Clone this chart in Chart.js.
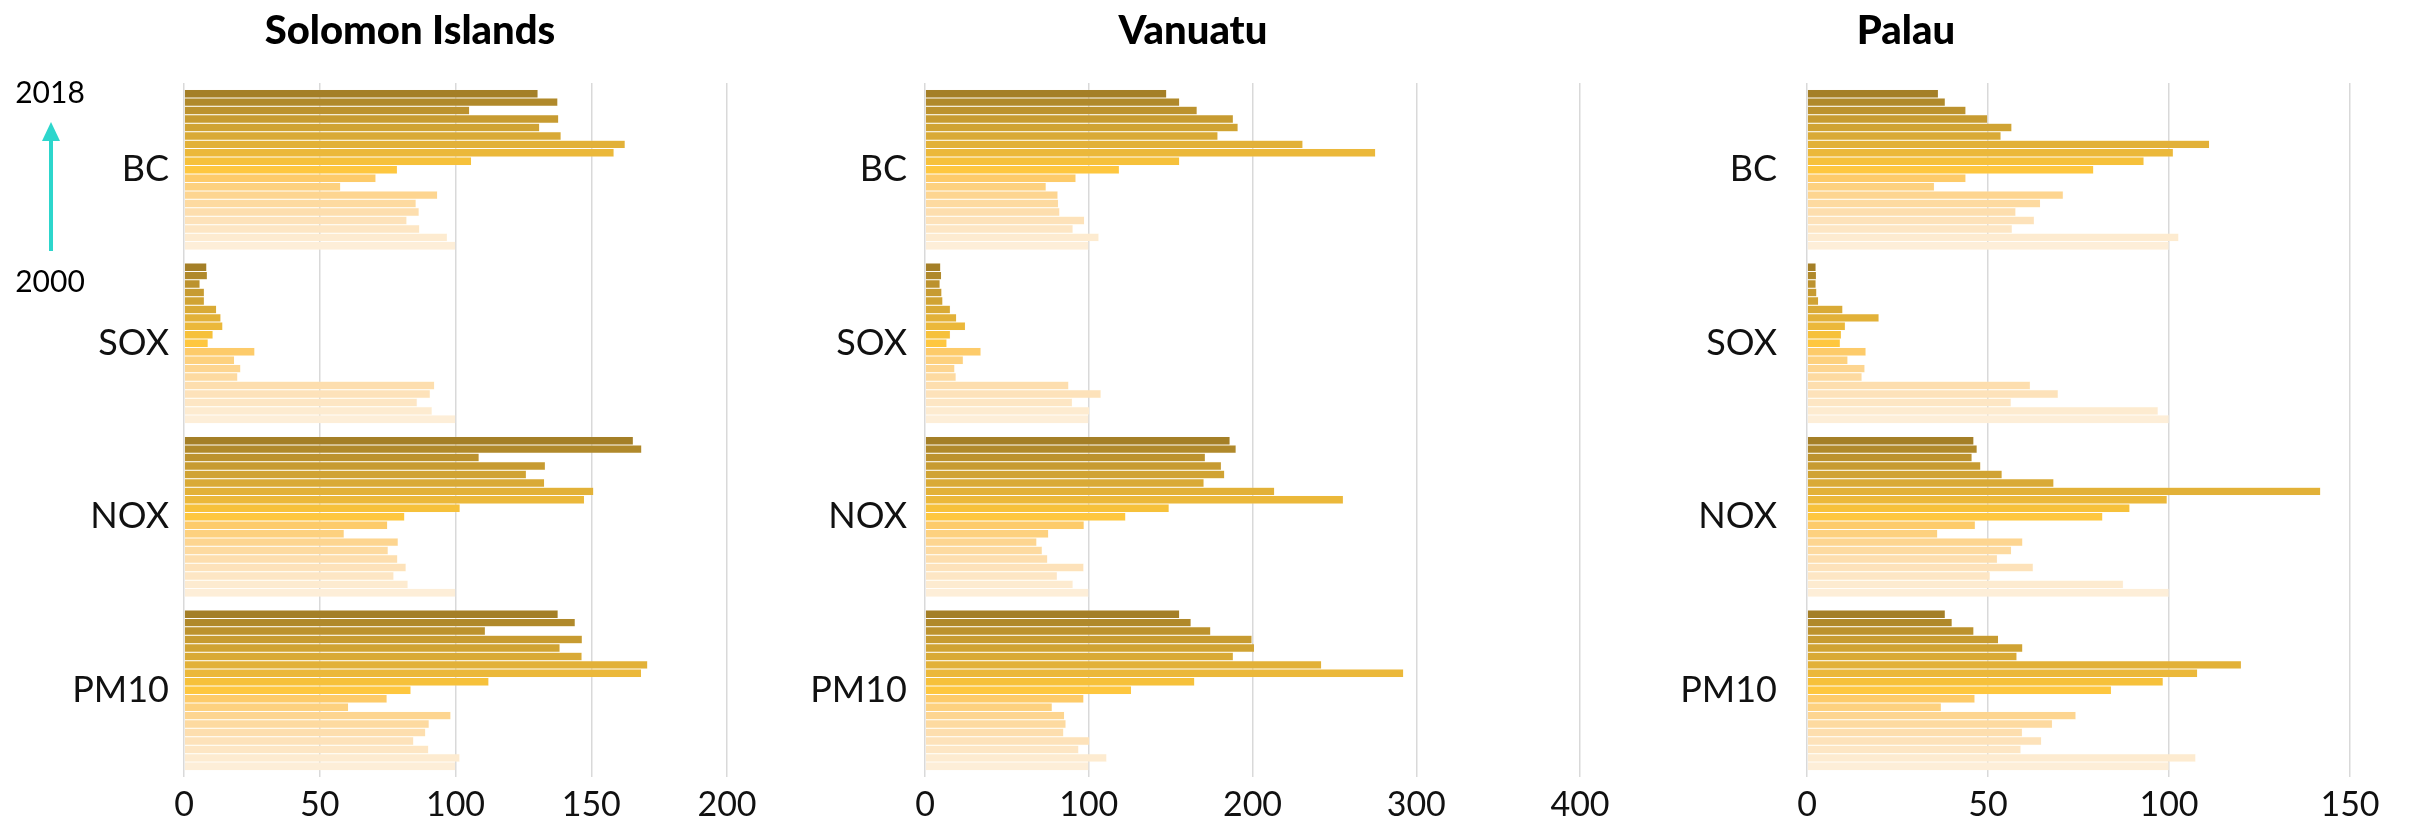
<!DOCTYPE html>
<html>
<head>
<meta charset="utf-8">
<script src="https://cdn.jsdelivr.net/npm/chart.js@4.4.0/dist/chart.umd.min.js"></script>
<style>
  html, body { margin: 0; padding: 0; background: #fff; }
  #wrap { position: relative; width: 2410px; height: 836px; overflow: hidden; }
  canvas { position: absolute; top: 0; }
</style>
</head>
<body>
<div id="wrap">
  <canvas id="c1"></canvas>
  <canvas id="c2"></canvas>
  <canvas id="c3"></canvas>
</div>
<script>
// categories and years (values are an index, 2000 = 100)
var pollutants = ['BC', 'SOX', 'NOX', 'PM10'];
var years = [2000, 2001, 2002, 2003, 2004, 2005, 2006, 2007, 2008, 2009,
             2010, 2011, 2012, 2013, 2014, 2015, 2016, 2017, 2018];

// Solomon Islands
var solomonBC   = [100, 97, 86.8, 82.1, 86.6, 85.5, 93.4, 57.7, 70.7, 78.6, 105.9, 158.4, 162.5, 138.9, 131, 138, 105.2, 137.7, 130.4];
var solomonSOX  = [100, 91.4, 85.9, 90.7, 92.3, 19.8, 20.9, 18.6, 26.1, 8.9, 10.7, 14.3, 13.6, 12, 7.5, 7.5, 5.9, 8.6, 8.4];
var solomonNOX  = [100, 82.5, 77.3, 81.8, 78.7, 75.2, 78.9, 59, 75, 81.3, 101.7, 147.5, 150.9, 132.8, 126.1, 133.1, 108.7, 168.6, 165.5];
var solomonPM10 = [100, 101.6, 90.1, 84.6, 89, 90.3, 98.3, 60.6, 74.8, 83.6, 112.3, 168.5, 170.8, 146.6, 138.5, 146.7, 111, 144.1, 137.8];

// Vanuatu
var vanuatuBC   = [100, 106.2, 90.4, 97.4, 82.3, 81.5, 81.2, 74, 92.2, 118.7, 155.5, 275.2, 230.8, 178.9, 191.2, 188.3, 166.2, 155.5, 147.6];
var vanuatuSOX  = [100, 100.5, 90, 107.5, 87.8, 19, 18.2, 23.4, 34.2, 13.4, 15.5, 24.7, 19.3, 15.5, 10.9, 10.3, 9.2, 10.1, 9.6];
var vanuatuNOX  = [100, 90.4, 80.8, 97, 74.9, 71.6, 68.3, 75.5, 97.2, 122.6, 149.1, 255.5, 213.5, 170.4, 183, 181, 171.2, 190, 186.3];
var vanuatuPM10 = [100, 111, 93.9, 100.5, 84.7, 86.1, 85.2, 77.7, 97, 126.1, 164.7, 292.3, 242.2, 188.3, 201.2, 199.7, 174.5, 162.5, 155.5];

// Palau
var palauBC   = [100, 102.7, 56.7, 62.8, 57.7, 64.5, 70.8, 35.2, 43.9, 79.2, 93.1, 101.2, 111.2, 53.6, 56.6, 49.9, 43.9, 38.2, 36.3];
var palauSOX  = [100, 97, 56.4, 69.4, 61.7, 15.2, 16, 11.3, 16.3, 9.2, 9.5, 10.6, 19.9, 9.9, 3.2, 2.7, 2.5, 2.6, 2.5];
var palauNOX  = [100, 87.4, 50.6, 62.5, 52.6, 56.5, 59.6, 36.1, 46.5, 81.7, 89.2, 99.5, 141.9, 68.2, 53.9, 48, 45.6, 47, 46.1];
var palauPM10 = [100, 107.4, 59.1, 64.8, 59.5, 67.8, 74.3, 37.1, 46.4, 84.1, 98.4, 107.9, 120, 58, 59.6, 52.9, 46.1, 40.1, 38.2];

// x axis ranges / steps per panel
var solomonTicks = { max: 200, step: 50 };
var vanuatuTicks = { max: 400, step: 100 };
var palauTicks   = { max: 150, step: 50 };

// one colour per year, 2000 (light) -> 2018 (dark)
var yearColors = ['#fdeed8', '#fdebd0', '#fde6c4', '#fde2ba', '#fddeae', '#fddaa0', '#fdd590', '#fdd17f',
                  '#fdcb6a', '#fec73f', '#f6c13b', '#ebb83a', '#e2b138', '#d9aa36', '#d0a333',
                  '#c79b31', '#bc922e', '#b0892b', '#a47f27'];

var FONT = 'Lato, "Open Sans", sans-serif';

// titles drawn on the canvas
var panelTitle = {
  id: 'panelTitle',
  afterDraw: function(chart, args, opts) {
    var ctx = chart.ctx;
    ctx.save();
    ctx.font = '900 40px ' + FONT;
    ctx.fillStyle = '#000';
    ctx.textAlign = 'center';
    ctx.textBaseline = 'middle';
    ctx.fillText(opts.text, opts.x, opts.y);
    ctx.restore();
  }
};

// 2000 -> 2018 arrow at the left of the first panel
var yearArrow = {
  id: 'yearArrow',
  afterDraw: function(chart) {
    var ctx = chart.ctx;
    ctx.save();
    ctx.font = '30px ' + FONT;
    ctx.fillStyle = '#000';
    ctx.textAlign = 'center';
    ctx.textBaseline = 'middle';
    ctx.fillText(years[years.length - 1], 50, 93);
    ctx.fillText(years[0], 50, 282);
    ctx.strokeStyle = '#2dd6cc';
    ctx.fillStyle = '#2dd6cc';
    ctx.lineWidth = 4;
    ctx.beginPath();
    ctx.moveTo(51, 251);
    ctx.lineTo(51, 138);
    ctx.stroke();
    ctx.beginPath();
    ctx.moveTo(51, 122);
    ctx.lineTo(60, 141);
    ctx.lineTo(42, 141);
    ctx.closePath();
    ctx.fill();
    ctx.restore();
  }
};

function buildDatasets(bc, sox, nox, pm10) {
  var sets = [];
  // newest year first so it sits at the top of each group
  for (var i = years.length - 1; i >= 0; i--) {
    sets.push({
      label: String(years[i]),
      data: [bc[i], sox[i], nox[i], pm10[i]],
      backgroundColor: yearColors[i],
      borderColor: 'rgba(255, 245, 220, 0.4)',
      borderWidth: 0.5,
      barPercentage: 1,
      categoryPercentage: 0.926
    });
  }
  return sets;
}

function makePanel(id, left, width, datasets, ticks, axisWidth, padRight, labelGap, title, titleX, extra) {
  var canvas = document.getElementById(id);
  canvas.width = width;
  canvas.height = 836;
  canvas.style.left = left + 'px';
  var plugins = [panelTitle];
  if (extra) plugins.push(extra);

  return new Chart(canvas.getContext('2d'), {
    type: 'bar',
    data: { labels: pollutants, datasets: datasets },
    plugins: plugins,
    options: {
      indexAxis: 'y',
      responsive: false,
      animation: false,
      devicePixelRatio: 1,
      layout: { padding: { top: 83, right: padRight, bottom: 0, left: 0 } },
      plugins: {
        legend: { display: false },
        tooltip: { enabled: false },
        panelTitle: { text: title, x: titleX, y: 31 }
      },
      scales: {
        x: {
          min: 0,
          max: ticks.max,
          afterFit: function(scale) { scale.height = 59; },
          grid: { color: '#d9d9d9', lineWidth: 1.5, drawTicks: false },
          border: { display: false },
          ticks: {
            stepSize: ticks.step,
            padding: 8,
            color: '#111',
            font: { family: FONT, size: 34 }
          }
        },
        y: {
          afterFit: function(scale) { scale.width = axisWidth; },
          grid: { display: false, drawTicks: false },
          border: { display: false },
          ticks: {
            padding: labelGap,
            color: '#111',
            font: { family: FONT, size: 36 }
          }
        }
      }
    }
  });
}

makePanel('c1', 0, 790, buildDatasets(solomonBC, solomonSOX, solomonNOX, solomonPM10),
          solomonTicks, 184, 63, 15, 'Solomon Islands', 410, yearArrow);
makePanel('c2', 790, 830, buildDatasets(vanuatuBC, vanuatuSOX, vanuatuNOX, vanuatuPM10),
          vanuatuTicks, 135, 40, 18, 'Vanuatu', 403);
makePanel('c3', 1620, 790, buildDatasets(palauBC, palauSOX, palauNOX, palauPM10),
          palauTicks, 187, 60, 30, 'Palau', 286);
</script>
</body>
</html>
